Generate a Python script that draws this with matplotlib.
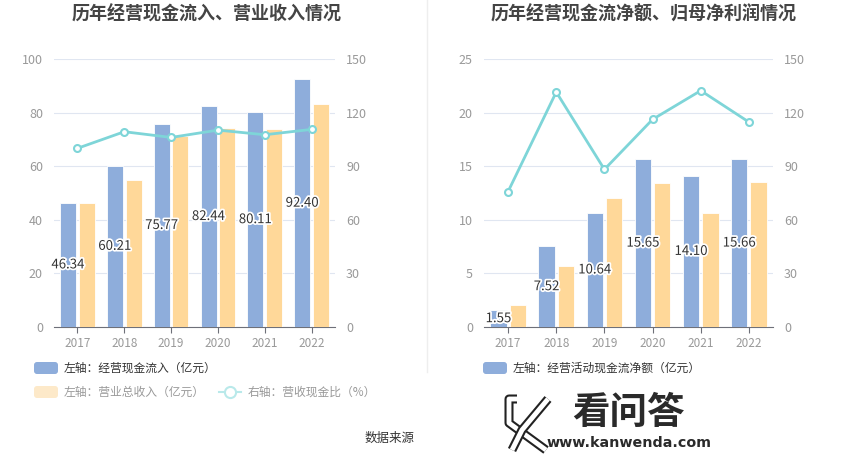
import matplotlib.pyplot as plt
import matplotlib.patheffects as pe
from matplotlib.patches import FancyBboxPatch, Rectangle
import numpy as np

plt.rcParams['font.family'] = ['Noto Sans CJK SC', 'DejaVu Sans']

years = ['2017', '2018', '2019', '2020', '2021', '2022']

# left panel
cash_in = [46.34, 60.21, 75.77, 82.44, 80.11, 92.40]
revenue = [46.1, 54.8, 71.2, 74.2, 73.8, 83.2]
cash_ratio = [100.0, 109.3, 106.1, 110.2, 107.6, 110.6]

# right panel
net_cash = [1.55, 7.52, 10.64, 15.65, 14.10, 15.66]
net_profit = [2.02, 5.67, 12.02, 13.39, 10.62, 13.57]
net_ratio = [75.8, 131.5, 88.2, 116.2, 132.3, 114.7]

blue = '#8eaddb'
orange = '#ffd899'
teal = '#7ed5d8'
W, H = 850, 459

fig = plt.figure(figsize=(8.5, 4.59), dpi=100)

# overlay in pixel coords for titles, legends, watermark
ov = fig.add_axes([0, 0, 1, 1])
ov.set_xlim(0, W)
ov.set_ylim(H, 0)
ov.set_axis_off()


def px_axes(x0, x1, y0, y1):
    return fig.add_axes([x0 / W, 1 - y1 / H, (x1 - x0) / W, (y1 - y0) / H])


def panel(ax, bars1, bars2, line, ymax, ystep):
    x = np.arange(len(years))
    ax.bar(x - 0.2, bars1, 0.34, color=blue, edgecolor='white', linewidth=0.6, zorder=3)
    ax.bar(x + 0.2, bars2, 0.34, color=orange, edgecolor='white', linewidth=0.6, zorder=3)
    for xi, v in zip(x, bars1):
        ax.text(xi - 0.2, v / 2, f'{v:.2f}', ha='center', va='center', fontsize=9.5,
                color='#333333', zorder=5,
                path_effects=[pe.withStroke(linewidth=2.5, foreground='white')])
    ax.set_xlim(-0.5, len(years) - 0.5)
    ax.set_ylim(0, ymax)
    ax.set_yticks(np.arange(0, ymax + 0.1, ystep))
    ax.set_xticks(x)
    ax.set_xticklabels(years)
    ax.grid(axis='y', color='#e0e6f1', linewidth=0.8, zorder=0)
    for s in ['top', 'left', 'right']:
        ax.spines[s].set_visible(False)
    ax.spines['bottom'].set_color('#6e7079')
    ax.tick_params(axis='x', colors='#6e7079', labelcolor='#999999', labelsize=8.5,
                   length=4, pad=3)
    ax.tick_params(axis='y', length=0, labelcolor='#999999', labelsize=9, pad=8)
    ax2 = ax.twinx()
    ax2.plot(x, line, color=teal, linewidth=2, marker='o', markersize=5,
             markerfacecolor='white', markeredgecolor=teal, markeredgewidth=1.5, zorder=4)
    ax2.set_ylim(0, 150)
    ax2.set_yticks(np.arange(0, 151, 30))
    for s in ax2.spines.values():
        s.set_visible(False)
    ax2.tick_params(axis='y', length=0, labelcolor='#999999', labelsize=9, pad=8)


axL = px_axes(54, 335, 59, 327)
panel(axL, cash_in, revenue, cash_ratio, 100, 20)
axR = px_axes(484, 773, 59, 327)
panel(axR, net_cash, net_profit, net_ratio, 25, 5)

# titles
ov.text(207, 14, '历年经营现金流入、营业收入情况', ha='center', va='center',
        fontsize=13, fontweight='bold', color='#444444')
ov.text(644, 14, '历年经营现金流净额、归母净利润情况', ha='center', va='center',
        fontsize=13, fontweight='bold', color='#444444')

# divider
ov.plot([427, 427], [0, 372], color='#eeeeee', linewidth=1)


def legend_box(x, y, color, label, tcolor):
    ov.add_patch(FancyBboxPatch((x, y - 6), 24, 12, boxstyle='round,pad=0,rounding_size=3',
                                facecolor=color, edgecolor='none'))
    ov.text(x + 30, y, label, ha='left', va='center', fontsize=8.5, color=tcolor)


legend_box(34, 368, blue, '左轴：经营现金流入（亿元）', '#333333')
legend_box(34, 392, '#fde9c9', '左轴：营业总收入（亿元）', '#999999')
ov.plot([219, 241], [392, 392], color='#b9e9ea', linewidth=1.5)
ov.plot([230], [392], marker='o', markersize=8, markerfacecolor='white',
        markeredgecolor='#b9e9ea', markeredgewidth=1.5)
ov.text(248, 392, '右轴：营收现金比（%）', ha='left', va='center', fontsize=8.5, color='#999999')

legend_box(483, 368, blue, '左轴：经营活动现金流净额（亿元）', '#333333')

ov.text(390, 438, '数据来源', ha='center', va='center', fontsize=9, color='#333333')

# watermark
ov.add_patch(Rectangle((490, 380), 230, 79, facecolor='white', edgecolor='none'))
outline = [pe.Stroke(linewidth=6.5, foreground='#222222'), pe.Stroke(linewidth=3.5, foreground='white')]
ov.plot([517, 509, 509, 546], [399, 399, 423, 450], color='white', linewidth=3.5,
        solid_capstyle='butt', path_effects=outline)
ov.plot([548, 522, 512], [399, 430, 450], color='white', linewidth=3.5,
        solid_capstyle='butt', path_effects=outline)
ov.text(628, 412, '看问答', ha='center', va='center', fontsize=27, fontweight='bold',
        color='#2a2a2a')
ov.text(629, 443, 'www.kanwenda.com', ha='center', va='center', fontsize=10.3,
        fontweight='bold', color='#2a2a2a', family=['DejaVu Sans'])

fig.savefig('out.png', dpi=100)
